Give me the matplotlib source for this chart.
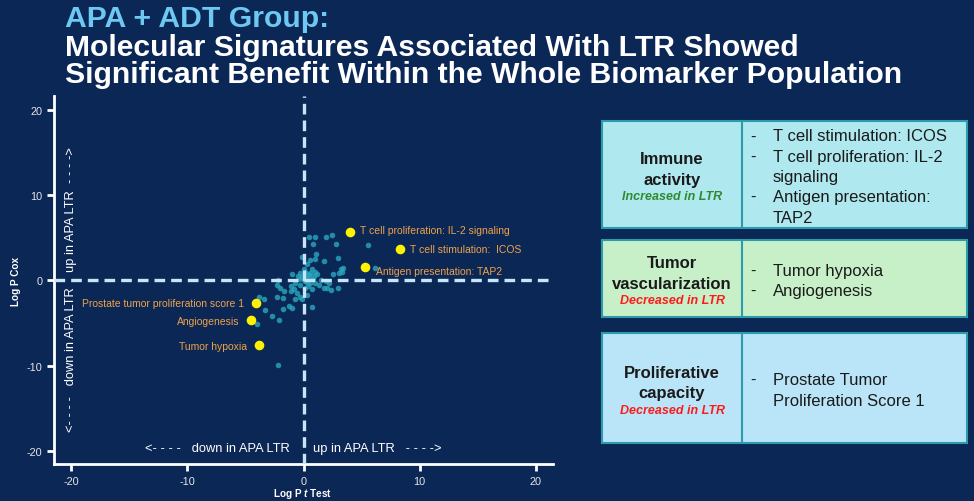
import matplotlib
matplotlib.use("Agg")
import matplotlib.pyplot as plt
from matplotlib.patches import Rectangle

# ---- data ----
bg_x = [0.46, 1.03, 1.98, 2.47, 0.78, 2.84, 5.57, 1.12, 2.96, 0.6, 1.0, 1.75, -0.1, 0.3,
        0.75, 0.03, -0.26, 0.3, 0.46, 0.9, 1.2, 1.5, 0.17, 0.6, 1.03, 1.3, -0.97, -0.4,
        -0.7, -1.1, -2.2, -2.3, -2.0, -1.7, -1.8, -2.3, -1.1, -0.83, -0.55, -0.26, -0.7,
        -0.1, 0.3, 0.17, 1.75, 2.0, 2.4, 3.0, 2.5, 3.2, 3.3, 3.4, 3.1, 6.2, -3.8, -3.4,
        -3.3, -2.7, -2.07, -4.05, -1.8, -1.27, -0.97, 0.75, -2.2, 1.9, 2.2, 0.75,
        0.2, 0.5, -0.3, 0.8, 0.4, -0.5, 0.1, 1.0, 0.0, 0.3, 0.6, -0.2]
bg_y = [5.1, 5.1, 5.1, 5.3, 4.3, 4.3, 4.2, 3.1, 2.6, 2.35, 2.5, 2.3, 2.7, 1.9,
        1.3, 1.3, 0.9, 0.7, 0.3, 0.5, 0.7, 0.1, -0.1, -0.3, -0.3, -0.5, 0.8, 0.2,
        -0.3, -0.7, 0.1, -0.55, -0.9, -1.25, -2.1, -1.9, -1.25, -1.06, -1.45, -1.9, -2.15,
        -2.2, -1.65, -0.86, -0.86, -0.86, -1.14, -0.86, 0.7, 1.3, 1.0, 1.4, 0.9, 1.4, -1.9, -2.15,
        -3.5, -4.2, -4.6, -5.06, -3.4, -3.0, -3.2, -3.1, -9.9, -0.1, -0.3, -1.06,
        0.3, 0.6, -0.5, 0.2, -0.6, 0.5, 1.0, 1.0, 0.1, -0.2, 0.9, 0.4]

hl_labels = ["T cell proliferation: IL-2 signaling", "T cell stimulation:  ICOS",
             "Antigen presentation: TAP2", "Prostate tumor proliferation score 1",
             "Angiogenesis", "Tumor hypoxia"]
hl_x = [3.97, 8.28, 5.26, -4.08, -4.5, -3.85]
hl_y = [5.7, 3.65, 1.56, -2.7, -4.6, -7.6]

ticks = [-20, -10, 0, 10, 20]

groups = [("Immune\nactivity", "Increased in LTR", "#2E8B2E"),
          ("Tumor\nvascularization", "Decreased in LTR", "#FF1A1A"),
          ("Proliferative\ncapacity", "Decreased in LTR", "#FF1A1A")]
group_items = [["T cell stimulation: ICOS", "T cell proliferation: IL-2\nsignaling",
                "Antigen presentation:\nTAP2"],
               ["Tumor hypoxia", "Angiogenesis"],
               ["Prostate Tumor\nProliferation Score 1"]]

# ---- style ----
BG = "#0B2755"
plt.rcParams["font.family"] = ["Liberation Sans", "DejaVu Sans"]
plt.rcParams["axes.unicode_minus"] = False
plt.rcParams["mathtext.fontset"] = "custom"
plt.rcParams["mathtext.it"] = "Liberation Sans:italic:bold"
plt.rcParams["mathtext.rm"] = "Liberation Sans:bold"

W, H = 974, 502
fig = plt.figure(figsize=(W / 100, H / 100), dpi=100, facecolor=BG)


def fx(px):
    return px / W


def fy(py):
    return 1 - py / H


# title, sized so the longest line spans the same width as in the slide
t1 = fig.text(fx(65), fy(27), "APA + ADT Group:", color="#6DC9F2", fontsize=20,
              fontweight="bold", va="baseline")
t2 = fig.text(fx(65), fy(56), "Molecular Signatures Associated With LTR Showed", color="white",
              fontsize=20, fontweight="bold", va="baseline")
t3 = fig.text(fx(65), fy(83), "Significant Benefit Within the Whole Biomarker Population",
              color="white", fontsize=20, fontweight="bold", va="baseline")
r = fig.canvas.get_renderer()
scale = 838 / t3.get_window_extent(r).width
for t in (t1, t2, t3):
    t.set_fontsize(20 * scale)

# scatter axes
ax = fig.add_axes([fx(54), fy(465), fx(553) - fx(54), fy(97) - fy(465)])
ax.set_facecolor(BG)
ax.set_xlim(-21.5, 21.5)
ax.set_ylim(-21.5, 21.6)
for s in ["top", "right"]:
    ax.spines[s].set_visible(False)
for s in ["left", "bottom"]:
    ax.spines[s].set_color("white")
    ax.spines[s].set_linewidth(2)
ax.set_xticks(ticks)
ax.set_yticks(ticks)
ax.tick_params(colors="white", width=2, length=5, labelsize=7.8, labelcolor="#E6E6E6")

ax.scatter(bg_x, bg_y, s=16, color="#2AA6BE", alpha=0.8, linewidths=0, zorder=2)
ax.axhline(0, color="#C6E5F8", lw=2.4, ls=(0, (3.2, 1.8)), zorder=3)
ax.axvline(0, color="#C6E5F8", lw=2.4, ls=(0, (3.2, 1.8)), zorder=3)
ax.scatter(hl_x, hl_y, s=48, color="#FFF200", linewidths=0, zorder=4)

orange = "#F0A24A"
offs = [(0.9, 0.2, "left"), (0.9, 0.0, "left"), (1.0, -0.5, "left"),
        (-1.0, 0.0, "right"), (-1.0, -0.1, "right"), (-1.0, -0.1, "right")]
for lab, x, y, (dx, dy, ha) in zip(hl_labels, hl_x, hl_y, offs):
    ax.text(x + dx, y + dy, lab, color=orange, fontsize=7.5, ha=ha, va="center", zorder=5)

# direction annotations
fig.text(fx(71), fy(272), "up in APA LTR  - - - ->", rotation=90, color="white",
         fontsize=9.3, ha="center", va="bottom")
fig.text(fx(71), fy(432), "<- - - -   down in APA LTR", rotation=90, color="white",
         fontsize=9.3, ha="center", va="bottom")
fig.text(fx(290), fy(449), "<- - - -   down in APA LTR", color="white", fontsize=9.3,
         ha="right", va="center")
fig.text(fx(313), fy(449), "up in APA LTR   - - - ->", color="white", fontsize=9.3,
         ha="left", va="center")

# axis labels
fig.text(fx(16), fy(281), "Log P Cox", rotation=90, color="white", fontsize=7.2,
         fontweight="bold", ha="center", va="center")
fig.text(fx(303), fy(494), "Log P $t$ Test", color="white", fontsize=7.2,
         fontweight="bold", ha="center", va="center")

# right-hand table
boxes = [(122, 229, "#AFE8EE"), (241, 318, "#C7F0C9"), (334, 444, "#BAE5F8")]
left_cx = 672
row_h = 20.3
for (top, bot, col), (name, sub, subcol), items in zip(boxes, groups, group_items):
    fig.patches.append(Rectangle((fx(602), fy(bot)), fx(967) - fx(602), fy(top) - fy(bot),
                                 transform=fig.transFigure, facecolor=col,
                                 edgecolor="#2C9CAC", lw=1.5, zorder=1))
    fig.add_artist(plt.Line2D([fx(742), fx(742)], [fy(top), fy(bot)],
                              color="#2C9CAC", lw=1.5, transform=fig.transFigure))
    mid = (top + bot) / 2
    name_lines = name.split("\n")
    for k, ln in enumerate(name_lines):
        yc = mid + 5 - (len(name_lines) - 1 - k) * 20.5
        fig.text(fx(left_cx), fy(yc), ln, color="#1A1A1A", fontsize=12,
                 fontweight="bold", ha="center", va="center")
    fig.text(fx(left_cx), fy(mid + 22), sub, color=subcol, fontsize=9,
             fontweight="bold", style="italic", ha="center", va="center")
    # bullet list
    rows = []
    for it in items:
        for j, ln in enumerate(it.split("\n")):
            rows.append((j == 0, ln))
    y0 = mid + 2 - row_h * (len(rows) - 1) / 2
    for k, (first, ln) in enumerate(rows):
        yc = y0 + k * row_h
        if first:
            fig.text(fx(753), fy(yc), "-", color="#1A1A1A", fontsize=12,
                     ha="center", va="center")
        fig.text(fx(773), fy(yc), ln, color="#1A1A1A", fontsize=12, ha="left",
                 va="center")

fig.savefig("out.png", dpi=100, facecolor=BG)
